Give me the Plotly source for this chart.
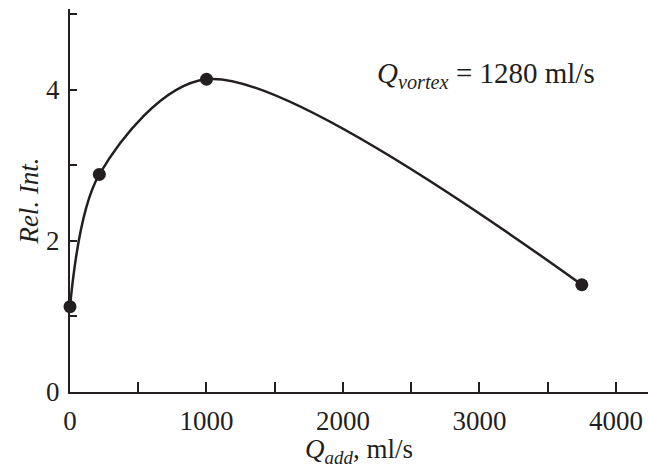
import plotly.graph_objects as go

# Data
q_add = [0, 215, 1000, 3750]          # ml/s
rel_int = [1.13, 2.88, 4.14, 1.42]    # relative intensity

x_tickvals = [0, 1000, 2000, 3000, 4000]
x_ticktext = ["0", "1000", "2000", "3000", "4000"]
y_tickvals = [0, 2, 4]
y_ticktext = ["0", "2", "4"]

INK = "#231f20"
FONT = "Liberation Serif"

fig = go.Figure()
fig.add_trace(go.Scatter(
    x=q_add, y=rel_int, mode="lines+markers",
    line=dict(color=INK, width=2.5, shape="spline", smoothing=0.9),
    marker=dict(color=INK, size=13),
    showlegend=False, cliponaxis=False,
))

fig.add_annotation(
    x=2234, y=4.19, xref="x", yref="y", xanchor="left", yanchor="middle",
    text="<i>Q</i><sub><i>vortex</i></sub> = 1280 ml/s", showarrow=False,
    font=dict(family=FONT, size=29, color=INK),
)

fig.update_layout(
    width=648, height=468,
    margin=dict(l=70, r=0, t=9, b=76, autoexpand=False),
    paper_bgcolor="white", plot_bgcolor="white",
    font=dict(family=FONT, size=27, color=INK),
    xaxis=dict(
        range=[0, 4235], tickmode="array", tickvals=x_tickvals, ticktext=x_ticktext,
        ticks="inside", ticklen=10, tickwidth=1.5, tickcolor=INK,
        minor=dict(dtick=500, tick0=0, ticks="inside", ticklen=10, tickwidth=1.5,
                   tickcolor=INK, showgrid=False),
        showline=True, linewidth=2, linecolor=INK, showgrid=False, zeroline=False,
        ticklabelstandoff=4,
        title=dict(text="<i>Q</i><sub><i>add</i></sub>, ml/s", standoff=4,
                   font=dict(family=FONT, size=27, color=INK)),
    ),
    yaxis=dict(
        range=[0, 5.07], tickmode="array", tickvals=y_tickvals, ticktext=y_ticktext,
        ticks="inside", ticklen=7, tickwidth=1.5, tickcolor=INK,
        minor=dict(dtick=1, tick0=0, ticks="inside", ticklen=7, tickwidth=1.5,
                   tickcolor=INK, showgrid=False),
        showline=True, linewidth=2, linecolor=INK, showgrid=False, zeroline=False,
        ticklabelstandoff=3,
        title=dict(text="<i>Rel. Int.</i>", standoff=0,
                   font=dict(family=FONT, size=27, color=INK)),
    ),
)

fig.write_html(
    "out.html",
    config={"displayModeBar": False},
    post_script="document.body.style.margin='0';document.body.style.overflow='hidden';",
)
